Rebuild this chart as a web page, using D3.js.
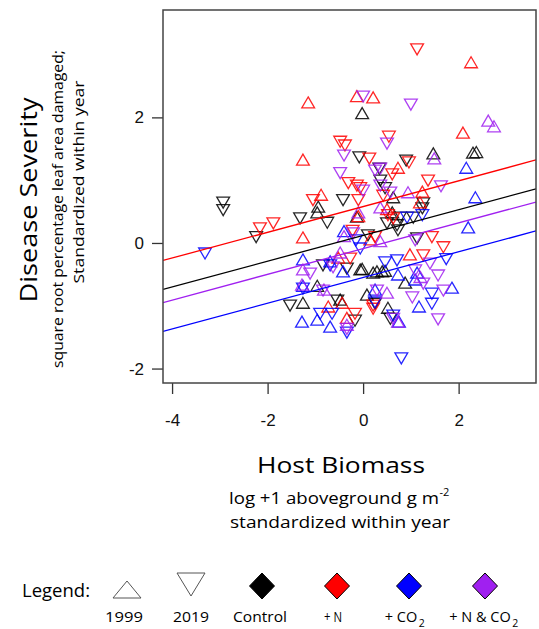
<!DOCTYPE html>
<html>
<head>
<meta charset="utf-8">
<script src="https://cdn.jsdelivr.net/npm/d3@7"></script>
<style>
  body { margin: 0; background: #fff; }
  svg { display: block; }
  .title { font-family: "Open Sans", Lato, sans-serif; font-weight: 400; fill: #000; }
  .tick-label { font-family: "Liberation Sans", Arial, sans-serif; font-size: 17px; fill: #111; }
</style>
</head>
<body>
<div id="chart"></div>
<script>
// axis ticks
const xTicks = [-4, -2, 0, 2];
const yTicks = [-2, 0, 2];

// treatments, in legend order
const groups = ["Control", "+ N", "+ CO2", "+ N & CO2"];
const groupColors = ["#000000", "#ff0000", "#0000ff", "#a020f0"];

// fitted lines: common slope, one intercept per treatment
const lineSlope = 0.205;
const lineIntercepts = [0.12, 0.58, -0.55, -0.09];

// points: [host biomass, disease severity]
const control1999 = [
  [-0.02, 2.06], [1.47, 1.42], [2.30, 1.43], [2.37, 1.44], [-0.94, 0.57], [-0.96, 0.48],
  [-0.13, 0.41], [0.61, 0.48], [-0.06, -0.43], [0.21, -0.48], [0.29, -0.46], [0.40, -0.46],
  [0.46, -0.45], [-0.96, -0.69], [-1.26, -0.96], [-0.48, -0.91], [0.08, -0.83], [0.88, -0.64],
  [0.52, -1.04], [0.63, 0.72], [-0.02, -0.42]
];
const control2019 = [
  [-2.93, 0.65], [-2.93, 0.53], [-0.42, 0.69], [-1.32, 0.40], [-0.75, 0.33], [-2.24, 0.10],
  [-0.08, 1.37], [0.90, 1.32], [0.34, 1.19], [0.36, 1.00], [0.46, 0.88], [1.26, 0.64],
  [1.24, 0.56], [0.77, 0.41], [1.05, 0.41], [0.71, 0.29], [0.50, 0.32], [0.73, 0.21],
  [1.13, 0.08], [0.10, 0.13], [-0.84, -0.35], [-0.34, -0.40], [-1.53, -0.99], [-0.54, -0.91],
  [-0.17, -1.23], [0.57, -1.20], [0.25, -0.96]
];
const nitrogen1999 = [
  [-1.15, 2.23], [-0.13, 2.33], [0.21, 2.31], [2.26, 2.87], [2.09, 1.75], [-1.26, 1.32],
  [-0.88, 0.76], [-1.26, 0.08], [0.73, 1.19], [1.24, 0.81], [1.19, 0.64], [0.50, 0.53],
  [0.98, -0.19], [-0.52, -0.24], [-0.73, -1.02], [-0.44, -0.96], [-0.34, -1.20], [0.15, 0.05],
  [-0.10, 0.42]
];
const nitrogen2019 = [
  [1.13, 3.09], [0.54, 1.70], [-0.48, 1.62], [-0.38, 1.56], [0.13, 1.35], [0.96, 1.29],
  [0.61, 1.10], [1.36, 1.00], [-0.31, 0.96], [-0.13, 0.92], [-0.06, 0.88], [0.42, 0.76],
  [-1.05, 0.69], [-1.88, 0.32], [-2.16, 0.24], [0.52, 0.45], [0.63, 0.40], [0.25, 0.10],
  [1.44, 0.10], [1.68, -0.06], [1.26, -0.19], [-0.27, -0.24], [-0.17, -1.12], [0.21, -0.99],
  [0.21, -1.04], [-0.10, 0.69], [-0.22, 0.20]
];
const co21999 = [
  [2.16, 1.19], [2.35, 0.72], [2.20, 0.24], [-0.40, 0.18], [-1.26, -0.27], [-1.26, -0.69],
  [-1.28, -1.26], [-0.96, -1.23], [-0.69, -1.34], [-0.42, -0.46], [0.25, -0.75], [0.73, -0.51],
  [1.09, -0.59], [1.17, -1.02], [1.86, -0.72], [0.75, -1.26], [1.13, -0.48], [-0.69, -0.30]
];
const co22019 = [
  [-3.31, -0.16], [-0.15, 0.05], [0.92, 0.41], [1.24, 0.45], [1.74, -0.25], [0.71, -0.27],
  [-0.69, -0.35], [-1.26, -0.72], [-0.90, -1.12], [-0.65, -1.12], [-0.34, -1.42], [0.25, -0.94],
  [0.63, -1.15], [1.44, -0.80], [1.44, -0.96], [0.80, -1.83], [-0.06, -0.08], [0.46, -0.30]
];
const nco21999 = [
  [2.62, 1.94], [2.74, 1.85], [1.49, 1.34], [0.94, 0.80], [-0.10, 0.48], [0.36, 0.56],
  [-0.40, 0.10], [0.36, 0.02], [-0.48, -0.16], [-1.26, -0.43], [-1.28, -0.67], [-0.82, -0.75],
  [0.50, -0.80], [0.73, -1.26], [-0.34, -1.31], [1.20, -0.55]
];
const nco22019 = [
  [0.00, 2.34], [1.00, 2.21], [0.50, 1.59], [-0.40, 1.40], [-0.48, 1.12], [0.36, 1.19],
  [0.25, 1.16], [0.00, 0.84], [0.36, 0.92], [0.57, 0.81], [1.63, 0.91], [-0.21, 0.16],
  [1.09, 0.05], [-0.63, -0.38], [-1.11, -0.48], [1.40, -0.32], [1.57, -0.51], [1.09, -0.43],
  [1.68, -0.75], [1.03, -0.86], [0.29, -0.75], [1.57, -1.21], [-0.84, -0.75], [-0.34, -1.36],
  [1.26, -0.64], [0.63, -1.20]
];

const series = [
  { pts: control1999, g: 0, up: true }, { pts: control2019, g: 0, up: false },
  { pts: nitrogen1999, g: 1, up: true }, { pts: nitrogen2019, g: 1, up: false },
  { pts: co21999, g: 2, up: true }, { pts: co22019, g: 2, up: false },
  { pts: nco21999, g: 3, up: true }, { pts: nco22019, g: 3, up: false }
];

const width = 539, height = 629;
const plot = { left: 163, right: 536, top: 10, bottom: 383 };

const svg = d3.select("#chart").append("svg")
  .attr("width", width).attr("height", height);

const x = d3.scaleLinear().domain([-4.19, 3.62]).range([plot.left, plot.right]);
const y = d3.scaleLinear().domain([-2.23, 3.71]).range([plot.bottom, plot.top]);

// axes (R style: ticks outside the box)
const xAxis = svg.append("g").attr("transform", `translate(0,${plot.bottom})`)
  .call(d3.axisBottom(x).tickValues(xTicks).tickSize(11).tickPadding(20).tickFormat(d3.format("d")));
const yAxis = svg.append("g").attr("transform", `translate(${plot.left},0)`)
  .call(d3.axisLeft(y).tickValues(yTicks).tickSize(11).tickPadding(8).tickFormat(d3.format("d")));
[xAxis, yAxis].forEach(a => {
  a.select(".domain").remove();
  a.selectAll(".tick line").attr("stroke", "#333").attr("stroke-width", 1.3);
  a.selectAll(".tick text").attr("class", "tick-label").attr("font-size", null).attr("font-family", null)
    .text(d => d < 0 ? "-" + Math.abs(d) : d);
});

svg.append("clipPath").attr("id", "clip").append("rect")
  .attr("x", plot.left).attr("y", plot.top)
  .attr("width", plot.right - plot.left).attr("height", plot.bottom - plot.top);

// points
const tri = (up) => up ? "M0,-6L6.4,5L-6.4,5Z" : "M0,6L6.4,-5L-6.4,-5Z";
const pointLayer = svg.append("g").attr("clip-path", "url(#clip)");
series.forEach(s => {
  pointLayer.selectAll(null).data(s.pts).enter().append("path")
    .attr("d", tri(s.up))
    .attr("transform", d => `translate(${x(d[0])},${y(d[1])})`)
    .attr("fill", "none")
    .attr("stroke", groupColors[s.g])
    .attr("stroke-opacity", 0.85)
    .attr("stroke-width", 1.3);
});

// regression lines
const xd = x.domain();
svg.append("g").attr("clip-path", "url(#clip)")
  .selectAll("line").data(lineIntercepts).enter().append("line")
  .attr("x1", x(xd[0])).attr("x2", x(xd[1]))
  .attr("y1", b => y(b + lineSlope * xd[0]))
  .attr("y2", b => y(b + lineSlope * xd[1]))
  .attr("stroke", (b, i) => groupColors[i])
  .attr("stroke-width", 1.3);

// box
svg.append("rect")
  .attr("x", plot.left).attr("y", plot.top)
  .attr("width", plot.right - plot.left).attr("height", plot.bottom - plot.top)
  .attr("fill", "none").attr("stroke", "#444").attr("stroke-width", 1.5);

// text helper: stretched to the width the reference uses
function label(parent, opts) {
  const t = parent.append("text").attr("class", "title")
    .attr("text-anchor", opts.anchor || "middle")
    .attr("font-size", opts.size);
  if (opts.rotate) t.attr("transform", `translate(${opts.x},${opts.y}) rotate(-90)`);
  else t.attr("x", opts.x).attr("y", opts.y);
  if (opts.len) t.attr("textLength", opts.len).attr("lengthAdjust", "spacingAndGlyphs");
  return t;
}

// y titles
label(svg, { x: 37, y: 200, size: 23, len: 205, rotate: true }).text("Disease Severity");
label(svg, { x: 63, y: 209, size: 15, len: 318, rotate: true }).text("square root percentage leaf area damaged;");
label(svg, { x: 84, y: 182, size: 15, len: 203, rotate: true }).text("Standardized within year");

// x titles
label(svg, { x: 334, y: 504, size: 17, len: 210 }).text("log +1 aboveground g m");
label(svg, { x: 439.5, y: 496, size: 11, anchor: "start" }).text("-2");
label(svg, { x: 341, y: 473, size: 21, len: 168 }).text("Host Biomass");
label(svg, { x: 340, y: 528, size: 17, len: 220 }).text("standardized within year");

// legend
const legend = svg.append("g");
label(legend, { x: 22, y: 597, size: 18, len: 68, anchor: "start" }).text("Legend:");
legend.append("path").attr("d", "M127,581L141,598L113,598Z")
  .attr("fill", "none").attr("stroke", "#555").attr("stroke-width", 1);
legend.append("path").attr("d", "M177,573L205,573L191,596Z")
  .attr("fill", "none").attr("stroke", "#555").attr("stroke-width", 1);
const diamondX = [262, 337, 409, 485];
legend.selectAll("path.dia").data(groups).enter().append("path")
  .attr("class", "dia")
  .attr("d", (g, i) => `M${diamondX[i]},573L${diamondX[i] + 12.5},586L${diamondX[i]},599L${diamondX[i] - 12.5},586Z`)
  .attr("fill", (g, i) => groupColors[i])
  .attr("stroke", "#000").attr("stroke-width", 1);

// legend labels; the CO2 ones get a separate subscript placed after the measured text
const labelX = [124, 191, 260, 333, 401, 480];
const labelLen = [38, 36, 54, 18, null, null];
const labels = ["1999", "2019"].concat(groups);
labels.forEach((t, i) => {
  const sub = t.endsWith("CO2");
  const el = label(legend, { x: labelX[i], y: 622, size: 14.5, len: labelLen[i] });
  el.text(sub ? t.slice(0, -1) : t);
  if (sub) {
    const w = el.node().getComputedTextLength();
    label(legend, { x: labelX[i] + w / 2 + 1.5, y: 627, size: 10.5, anchor: "start" }).text("2");
  }
});
</script>
</body>
</html>
